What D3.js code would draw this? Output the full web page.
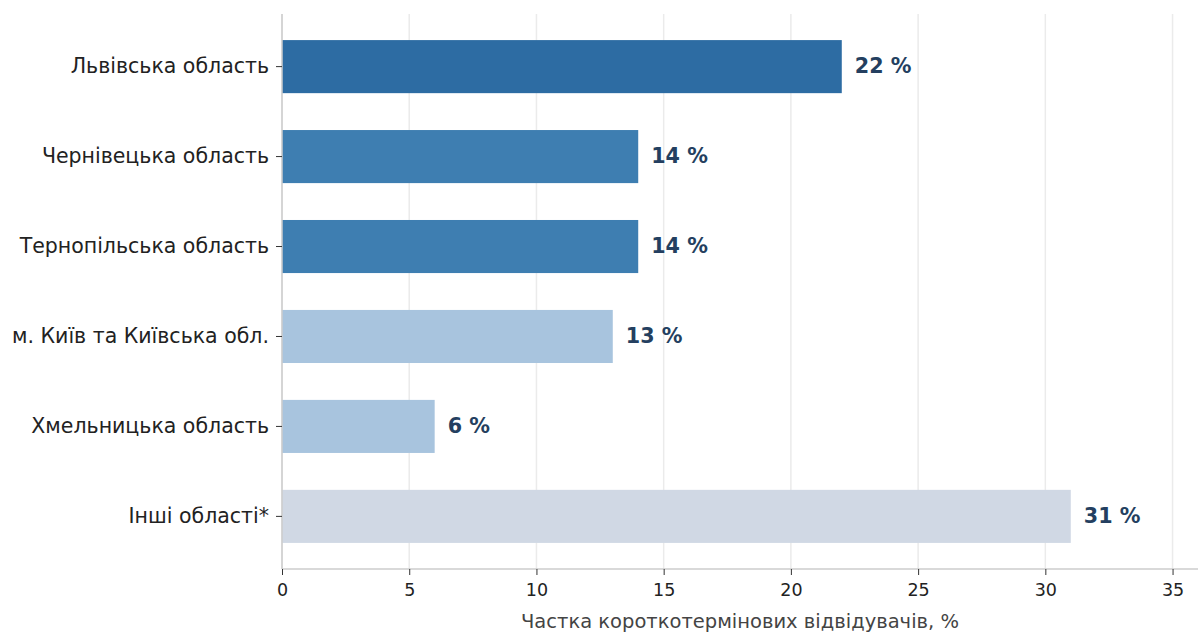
<!DOCTYPE html>
<html>
<head>
<meta charset="utf-8">
<script src="https://cdn.jsdelivr.net/npm/d3@7"></script>
<style>
body { margin: 0; background: #fff; }
svg text { font-family: "DejaVu Sans", sans-serif; }
</style>
</head>
<body>
<div id="chart"></div>
<script>
// data
var regions = ["Львівська область", "Чернівецька область", "Тернопільська область",
               "м. Київ та Київська обл.", "Хмельницька область", "Інші області*"];
var shares = [22, 14, 14, 13, 6, 31];
var barColors = ["#2d6ca3", "#3e7eb1", "#3e7eb1", "#a8c4de", "#a8c4de", "#d0d8e4"];
var xTicks = [0, 5, 10, 15, 20, 25, 30, 35];
var xLabel = "Частка короткотермінових відвідувачів, %";

var width = 1201, height = 633;
var plotLeft = 282, plotRight = 1198, plotTop = 14, plotBottom = 569;

var svg = d3.select("#chart")
    .append("svg")
    .attr("width", width)
    .attr("height", height);

var xScale = d3.scaleLinear().domain([0, 36]).range([plotLeft, plotRight]);
var yScale = d3.scaleBand().domain(regions).range([plotTop, plotBottom])
    .paddingInner(0.41).paddingOuter(0.29);

// grid
svg.append("g")
    .selectAll("line")
    .data(xTicks)
    .enter()
    .append("line")
    .attr("x1", function(d) { return xScale(d); })
    .attr("x2", function(d) { return xScale(d); })
    .attr("y1", plotTop)
    .attr("y2", plotBottom)
    .attr("stroke", "#ebebeb")
    .attr("stroke-width", 1.5);

// bars
svg.append("g")
    .selectAll("rect")
    .data(shares)
    .enter()
    .append("rect")
    .attr("x", xScale(0))
    .attr("y", function(d, i) { return yScale(regions[i]); })
    .attr("width", function(d) { return xScale(d) - xScale(0); })
    .attr("height", yScale.bandwidth())
    .attr("fill", function(d, i) { return barColors[i]; });

// value labels
svg.append("g")
    .selectAll("text")
    .data(shares)
    .enter()
    .append("text")
    .attr("x", function(d) { return xScale(d) + 13; })
    .attr("y", function(d, i) { return yScale(regions[i]) + yScale.bandwidth() / 2; })
    .attr("dy", "0.3em")
    .attr("fill", "#243f60")
    .attr("font-size", 20.7)
    .attr("font-weight", "bold")
    .text(function(d) { return d + " %"; });

// axes
var xAxis = svg.append("g")
    .attr("transform", "translate(0," + plotBottom + ")")
    .call(d3.axisBottom(xScale).tickValues(xTicks).tickSize(6).tickPadding(9));
xAxis.select(".domain").attr("stroke", "#cccccc").attr("stroke-width", 1.5)
    .attr("d", "M" + plotLeft + ",0H" + plotRight);
xAxis.selectAll(".tick line").attr("stroke", "#333");
xAxis.selectAll(".tick text").attr("font-size", 17.5).attr("fill", "#222");

var yAxis = svg.append("g")
    .attr("transform", "translate(" + plotLeft + ",0)")
    .call(d3.axisLeft(yScale).tickSize(6).tickPadding(7));
yAxis.select(".domain").attr("stroke", "#cccccc").attr("stroke-width", 1.5)
    .attr("d", "M0," + plotTop + "V" + plotBottom);
yAxis.selectAll(".tick line").attr("stroke", "#333");
yAxis.selectAll(".tick text").attr("font-size", 20.5).attr("fill", "#222");

svg.append("text")
    .attr("x", (plotLeft + plotRight) / 2)
    .attr("y", 628)
    .attr("text-anchor", "middle")
    .attr("font-size", 19.5)
    .attr("fill", "#444")
    .text(xLabel);
</script>
</body>
</html>
